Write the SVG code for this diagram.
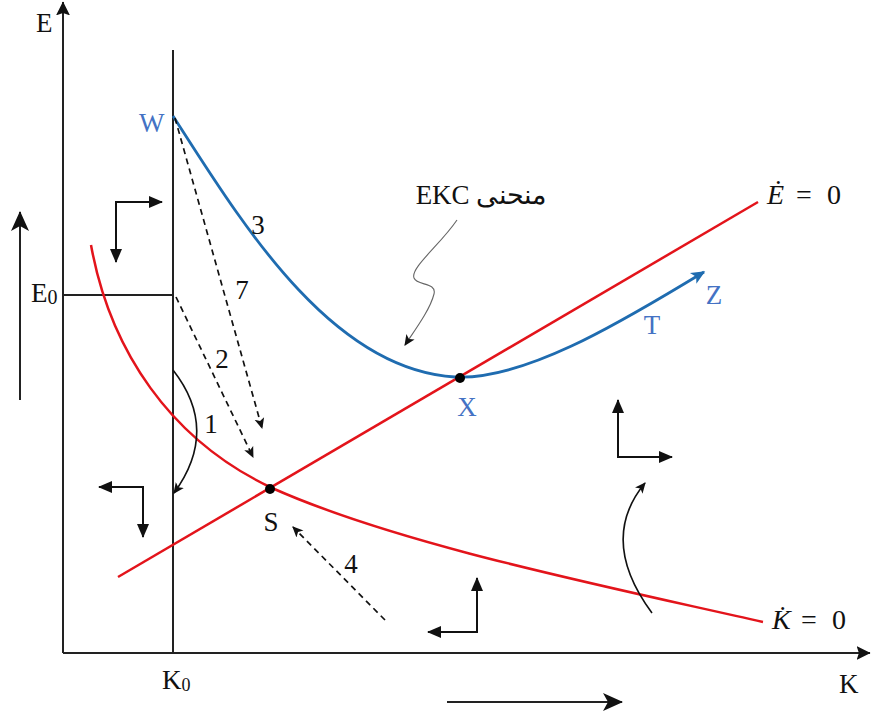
<svg xmlns="http://www.w3.org/2000/svg" width="872" height="716" viewBox="0 0 872 716">
<defs>
<style>
.ax{stroke:#222;stroke-width:2;fill:none}
.red{stroke:#E3141B;stroke-width:2.5;fill:none}
.blue{stroke:#1F6CB0;stroke-width:2.8;fill:none}
.dash{stroke:#111;stroke-width:1.7;fill:none;stroke-dasharray:6 4.5}
.dir{stroke:#111;stroke-width:2;fill:none}
.arc{stroke:#111;stroke-width:1.6;fill:none}
.ptr{stroke:#666;stroke-width:1.1;fill:none}
.t{font-family:"Liberation Serif","Times New Roman",serif;font-size:27px;fill:#111}
.lb{fill:#4472C4}
.m{font-family:"Liberation Serif","DejaVu Serif",serif;font-size:28px;fill:#111}
</style>
<marker id="tri" viewBox="0 0 14 12" refX="13" refY="6" markerWidth="14" markerHeight="12" markerUnits="userSpaceOnUse" orient="auto-start-reverse"><path d="M0,0 L14,6 L0,12 Z" fill="#111"/></marker>
<marker id="st" viewBox="0 0 10 10" refX="9" refY="5" markerWidth="11" markerHeight="11" markerUnits="userSpaceOnUse" orient="auto"><path d="M0,0.5 L10,5 L0,9.5 L2.5,5 Z" fill="#111"/></marker>
<marker id="big" viewBox="0 0 10 10" refX="9.5" refY="5" markerWidth="20" markerHeight="20" markerUnits="userSpaceOnUse" orient="auto"><path d="M0,0.5 L10,5 L0,9.5 L2.5,5 Z" fill="#111"/></marker>
<marker id="axh" viewBox="0 0 12 12" refX="11.5" refY="6" markerWidth="14" markerHeight="14" markerUnits="userSpaceOnUse" orient="auto"><path d="M0,0 L12,6 L0,12 L2,6 Z" fill="#111"/></marker>
<marker id="bl" viewBox="0 0 10 10" refX="9" refY="5" markerWidth="16" markerHeight="14" markerUnits="userSpaceOnUse" orient="auto"><path d="M0,0.5 L10,5 L0,9.5 L2.5,5 Z" fill="#1F6CB0"/></marker>
</defs>
<rect width="872" height="716" fill="#fff"/>
<g id="axes">
<path class="ax" d="M63,653 L63,2" marker-end="url(#axh)"/>
<path class="ax" d="M63,653 L870,653" marker-end="url(#axh)"/>
<path class="ax" d="M173,50 L173,653"/>
<path class="ax" d="M63,295 L173,295"/>
<text class="t" x="36" y="32" font-size="25">E</text>
<text class="t" x="31" y="302" font-size="29">E<tspan font-size="20" dy="2">0</tspan></text>
<text class="t" x="162" y="689" font-size="26">K<tspan font-size="18" dy="2">0</tspan></text>
<text class="t" x="839" y="693" font-size="26">K</text>
</g>
<g id="curve-kdot">
<path class="red" d="M91,245 C110,350 170,440 272,488 C400,545 600,585 763,622"/>
<text class="m" y="629"><tspan x="772" font-style="italic">K̇</tspan><tspan x="801">=</tspan><tspan x="832">0</tspan></text>
</g>
<g id="curve-edot">
<path class="red" d="M118,577 L758,202"/>
<text class="m" y="204"><tspan x="767" font-style="italic">Ė</tspan><tspan x="796">=</tspan><tspan x="827">0</tspan></text>
</g>
<g id="curve-ekc">
<path class="blue" d="M173,116 C240,220 330,370 455,377 C530,381 640,310 704,272" marker-end="url(#bl)"/>
<text class="t lb" x="139" y="132" font-size="27">W</text>
<text class="t lb" x="652" y="334" font-size="27" text-anchor="middle">T</text>
<text class="t lb" x="714" y="304" font-size="27" text-anchor="middle">Z</text>
<text class="t" x="258" y="234" font-size="27" text-anchor="middle">3</text>
</g>
<g id="point-S">
<circle cx="270" cy="489" r="5" fill="#000"/>
<text class="t" x="271" y="531" font-size="27" text-anchor="middle">S</text>
</g>
<g id="point-X">
<circle cx="460" cy="378" r="5" fill="#000"/>
<text class="t lb" x="467" y="416" font-size="27" text-anchor="middle">X</text>
</g>
<g id="label-ekc">
<text class="t" x="481" y="204" font-size="27" text-anchor="middle" direction="rtl">منحنی EKC</text>
</g>
<g id="connectors">
<path class="dash" d="M175,118 L262,428" marker-end="url(#st)"/>
<path class="dash" d="M176,297 L253,457" marker-end="url(#st)"/>
<path class="dash" d="M385,620 L293,527" marker-end="url(#st)"/>
<path class="arc" d="M173,370 Q220,430 174,493" marker-end="url(#st)"/>
<path class="arc" d="M652,613 Q598,540 645,483" marker-end="url(#st)"/>
<path class="ptr" d="M457,220 C440,245 410,268 414,278 C417,286 437,282 434,294 C430,310 415,330 405,345" marker-end="url(#st)"/>
<path class="dir" d="M116,262 L116,202 L162,202" marker-start="url(#tri)" marker-end="url(#tri)"/>
<path class="dir" d="M143,537 L143,487 L99,487" marker-start="url(#tri)" marker-end="url(#tri)"/>
<path class="dir" d="M477,578 L477,632 L428,632" marker-start="url(#tri)" marker-end="url(#tri)"/>
<path class="dir" d="M618,400 L618,457 L672,457" marker-start="url(#tri)" marker-end="url(#tri)"/>
<path class="ax" d="M20,400 L20,212" marker-end="url(#big)"/>
<path class="ax" d="M447,702 L622,702" marker-end="url(#big)"/>
<text class="t" x="242" y="299" font-size="27" text-anchor="middle">7</text>
<text class="t" x="222" y="368" font-size="27" text-anchor="middle">2</text>
<text class="t" x="211" y="433" font-size="27" text-anchor="middle">1</text>
<text class="t" x="351" y="573" font-size="27" text-anchor="middle">4</text>
</g>
</svg>
